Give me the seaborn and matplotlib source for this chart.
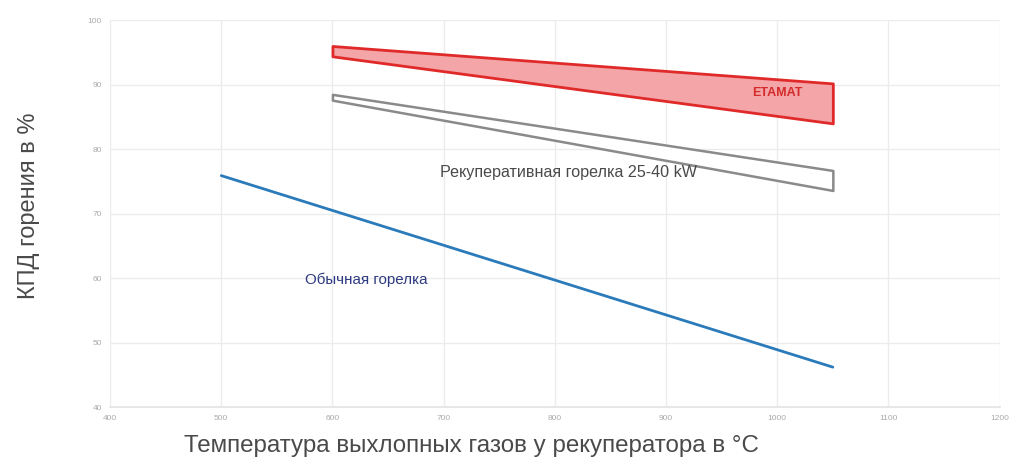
import pandas as pd
import matplotlib.pyplot as plt
import seaborn as sns

# exhaust gas temperature, °C
conv_temp = [500, 1050]
conv_eff = [75.9, 46.2]

band_temp = [600, 1050]
etamat_hi = [96.0, 90.2]
etamat_lo = [94.4, 84.0]
recup_hi = [88.5, 76.7]
recup_lo = [87.6, 73.6]

x_ticks = [400, 500, 600, 700, 800, 900, 1000, 1100, 1200]
y_ticks = [40, 50, 60, 70, 80, 90, 100]

sns.set_theme(style="whitegrid")
plt.rcParams['font.family'] = ['Liberation Sans', 'DejaVu Sans']

fig = plt.figure(figsize=(10.19, 4.59), dpi=100)
ax = fig.add_axes([0.108, 0.113, 0.873, 0.843])

conv = pd.DataFrame({"temp": conv_temp, "eff": conv_eff})
sns.lineplot(data=conv, x="temp", y="eff", color="#2b7bba", linewidth=2, ax=ax)

# ETAMAT band
ax.fill_between(band_temp, etamat_lo, etamat_hi, facecolor="#f3a5a7",
                edgecolor="#e02a2a", linewidth=2, zorder=3)
# recuperative burner band
ax.fill_between(band_temp, recup_lo, recup_hi, facecolor="white",
                edgecolor="#8a8a8a", linewidth=1.8, zorder=3)

ax.text(1000, 88.7, "ETAMAT", color="#d42a2a", fontsize=9, fontweight="bold",
        ha="center", va="center", zorder=4)
ax.text(812, 76.4, "Рекуперативная горелка 25-40 kW", color="#4a4a4a",
        fontsize=11.6, ha="center", va="center", zorder=4)
ax.text(575, 59.7, "Обычная горелка", color="#2e3a82", fontsize=10.9,
        ha="left", va="center", zorder=4)

ax.set_xlim(400, 1200)
ax.set_ylim(40, 100)
ax.set_xticks(x_ticks)
ax.set_yticks(y_ticks)
ax.tick_params(axis="both", labelsize=6, colors="#aaaaaa", length=0, pad=6)
ax.grid(color="#ececec", linewidth=1)
for s in ax.spines.values():
    s.set_visible(False)
ax.spines["bottom"].set_visible(True)
ax.spines["bottom"].set_color("#e4e4e4")

ax.set_xlabel("")
fig.text(471 / 1019, 7 / 459, "Температура выхлопных газов у рекуператора в °C",
         fontsize=17.4, color="#4a4a4a", ha="center", va="baseline")
ax.set_ylabel("КПД горения в %", fontsize=17, color="#4a4a4a")
ax.yaxis.set_label_coords(-0.079, 0.52)

fig.savefig("out.png", dpi=100)
plt.close(fig)
